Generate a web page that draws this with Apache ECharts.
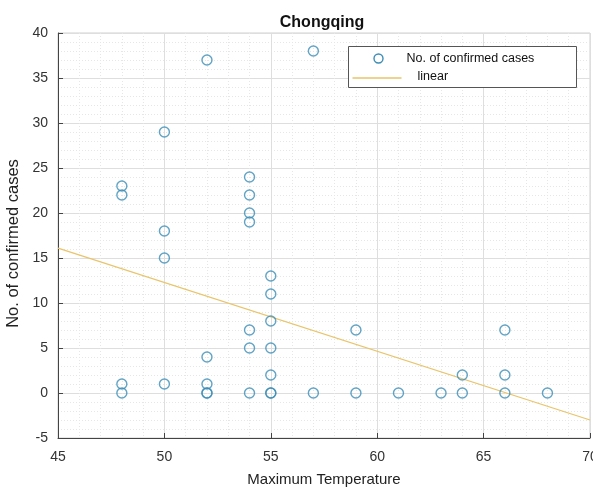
<!DOCTYPE html>
<html>
<head>
<meta charset="utf-8">
<script src="https://cdn.jsdelivr.net/npm/echarts@6/dist/echarts.min.js"></script>
<style>
  html, body { margin: 0; padding: 0; background: #fff; }
  #chart { width: 593px; height: 489px; }
</style>
</head>
<body>
<div id="chart"></div>
<script>
// Daily maximum temperature vs. confirmed cases, Chongqing
const temperature = [48, 48, 48, 48, 50, 50, 50, 50, 52, 52, 52, 52, 52, 54, 54, 54, 54, 54, 54, 54,
                     55, 55, 55, 55, 55, 55, 55, 57, 57, 59, 59, 61, 63, 64, 64, 66, 66, 66, 68];
const cases       = [0, 1, 22, 23, 1, 15, 18, 29, 0, 0, 1, 4, 37, 0, 5, 7, 19, 20, 22, 24,
                     0, 0, 2, 5, 8, 11, 13, 0, 38, 0, 7, 0, 0, 0, 2, 0, 2, 7, 0];
// Least-squares fit endpoints
const fitX = [45, 70];
const fitY = [16.1, -3.0];

const xTicks = { min: 45, max: 70, interval: 5 };
const yTicks = { min: -5, max: 40, interval: 5 };

const points = temperature.map((t, i) => [t, cases[i]]);
const fitLine = fitX.map((x, i) => [x, fitY[i]]);

const markerColor = '#3b8db6';
const fitColor = '#e9c46a';
const FONT = 'Liberation Sans, Arial, sans-serif';
const labelFont = { color: '#333', fontSize: 14, fontFamily: FONT };

const chart = echarts.init(document.getElementById('chart'), null, { renderer: 'canvas' });

function axisCommon() {
  return {
    axisLine: { show: true, onZero: false, lineStyle: { color: '#444', width: 1 } },
    axisTick: { show: true, inside: true, length: 5, lineStyle: { color: '#444' } },
    minorTick: { show: false },
    splitLine: { show: true, lineStyle: { color: '#dedede', width: 1 } },
    minorSplitLine: { show: true, lineStyle: { color: '#e6e6e6', width: 1, type: [1, 2] } }
  };
}

chart.setOption({
  animation: false,
  backgroundColor: '#fff',
  title: {
    text: 'Chongqing',
    left: 317,
    top: 10,
    textAlign: 'center',
    textStyle: { fontSize: 16, fontWeight: 'bold', color: '#111', fontFamily: FONT }
  },
  grid: {
    left: 58, right: 3, top: 33, bottom: 51,
    outerBoundsMode: 'none',
    containLabel: false,
    show: true, borderColor: '#d0d0d0', borderWidth: 1, backgroundColor: '#fff'
  },
  xAxis: Object.assign(axisCommon(), {
    type: 'value',
    min: xTicks.min, max: xTicks.max, interval: xTicks.interval,
    axisLabel: Object.assign({ margin: 12 }, labelFont),
    name: 'Maximum Temperature',
    nameLocation: 'middle',
    nameGap: 34,
    nameTextStyle: { color: '#222', fontSize: 15, fontFamily: FONT }
  }),
  yAxis: Object.assign(axisCommon(), {
    type: 'value',
    min: yTicks.min, max: yTicks.max, interval: yTicks.interval,
    axisLabel: Object.assign({ margin: 10 }, labelFont),
    name: 'No. of confirmed cases',
    nameLocation: 'middle',
    nameGap: 35,
    nameTextStyle: { color: '#222', fontSize: 16.5, fontFamily: FONT, padding: [0, 16, 0, 0] }
  }),
  series: [
    {
      name: 'linear',
      type: 'line',
      data: fitLine,
      symbol: 'none',
      lineStyle: { color: fitColor, width: 1.2 },
      z: 2
    },
    {
      name: 'No. of confirmed cases',
      type: 'scatter',
      data: points,
      symbol: 'circle',
      symbolSize: 10,
      itemStyle: { color: 'rgba(255,255,255,0)', borderColor: markerColor, borderWidth: 1.4 },
      z: 3
    }
  ],
  graphic: [
    {
      type: 'group',
      left: 348, top: 46,
      z: 100,
      children: [
        { type: 'rect', z: 100, shape: { x: 0, y: 0, width: 228, height: 41 },
          style: { fill: '#ffffff', stroke: '#555', lineWidth: 1 } },
        { type: 'circle', z: 101, shape: { cx: 30, cy: 12, r: 4.5 },
          style: { fill: '#ffffff', stroke: markerColor, lineWidth: 1.4 } },
        { type: 'text', z: 101, x: 58, y: 12,
          style: { text: 'No. of confirmed cases', fill: '#111', fontSize: 12.5,
                   fontFamily: FONT, verticalAlign: 'middle' } },
        { type: 'line', z: 101, shape: { x1: 4, y1: 31.5, x2: 53, y2: 31.5 },
          style: { stroke: fitColor, lineWidth: 1.5 } },
        { type: 'text', z: 101, x: 69, y: 30,
          style: { text: 'linear', fill: '#111', fontSize: 12.5,
                   fontFamily: FONT, verticalAlign: 'middle' } }
      ]
    }
  ]
});
</script>
</body>
</html>
